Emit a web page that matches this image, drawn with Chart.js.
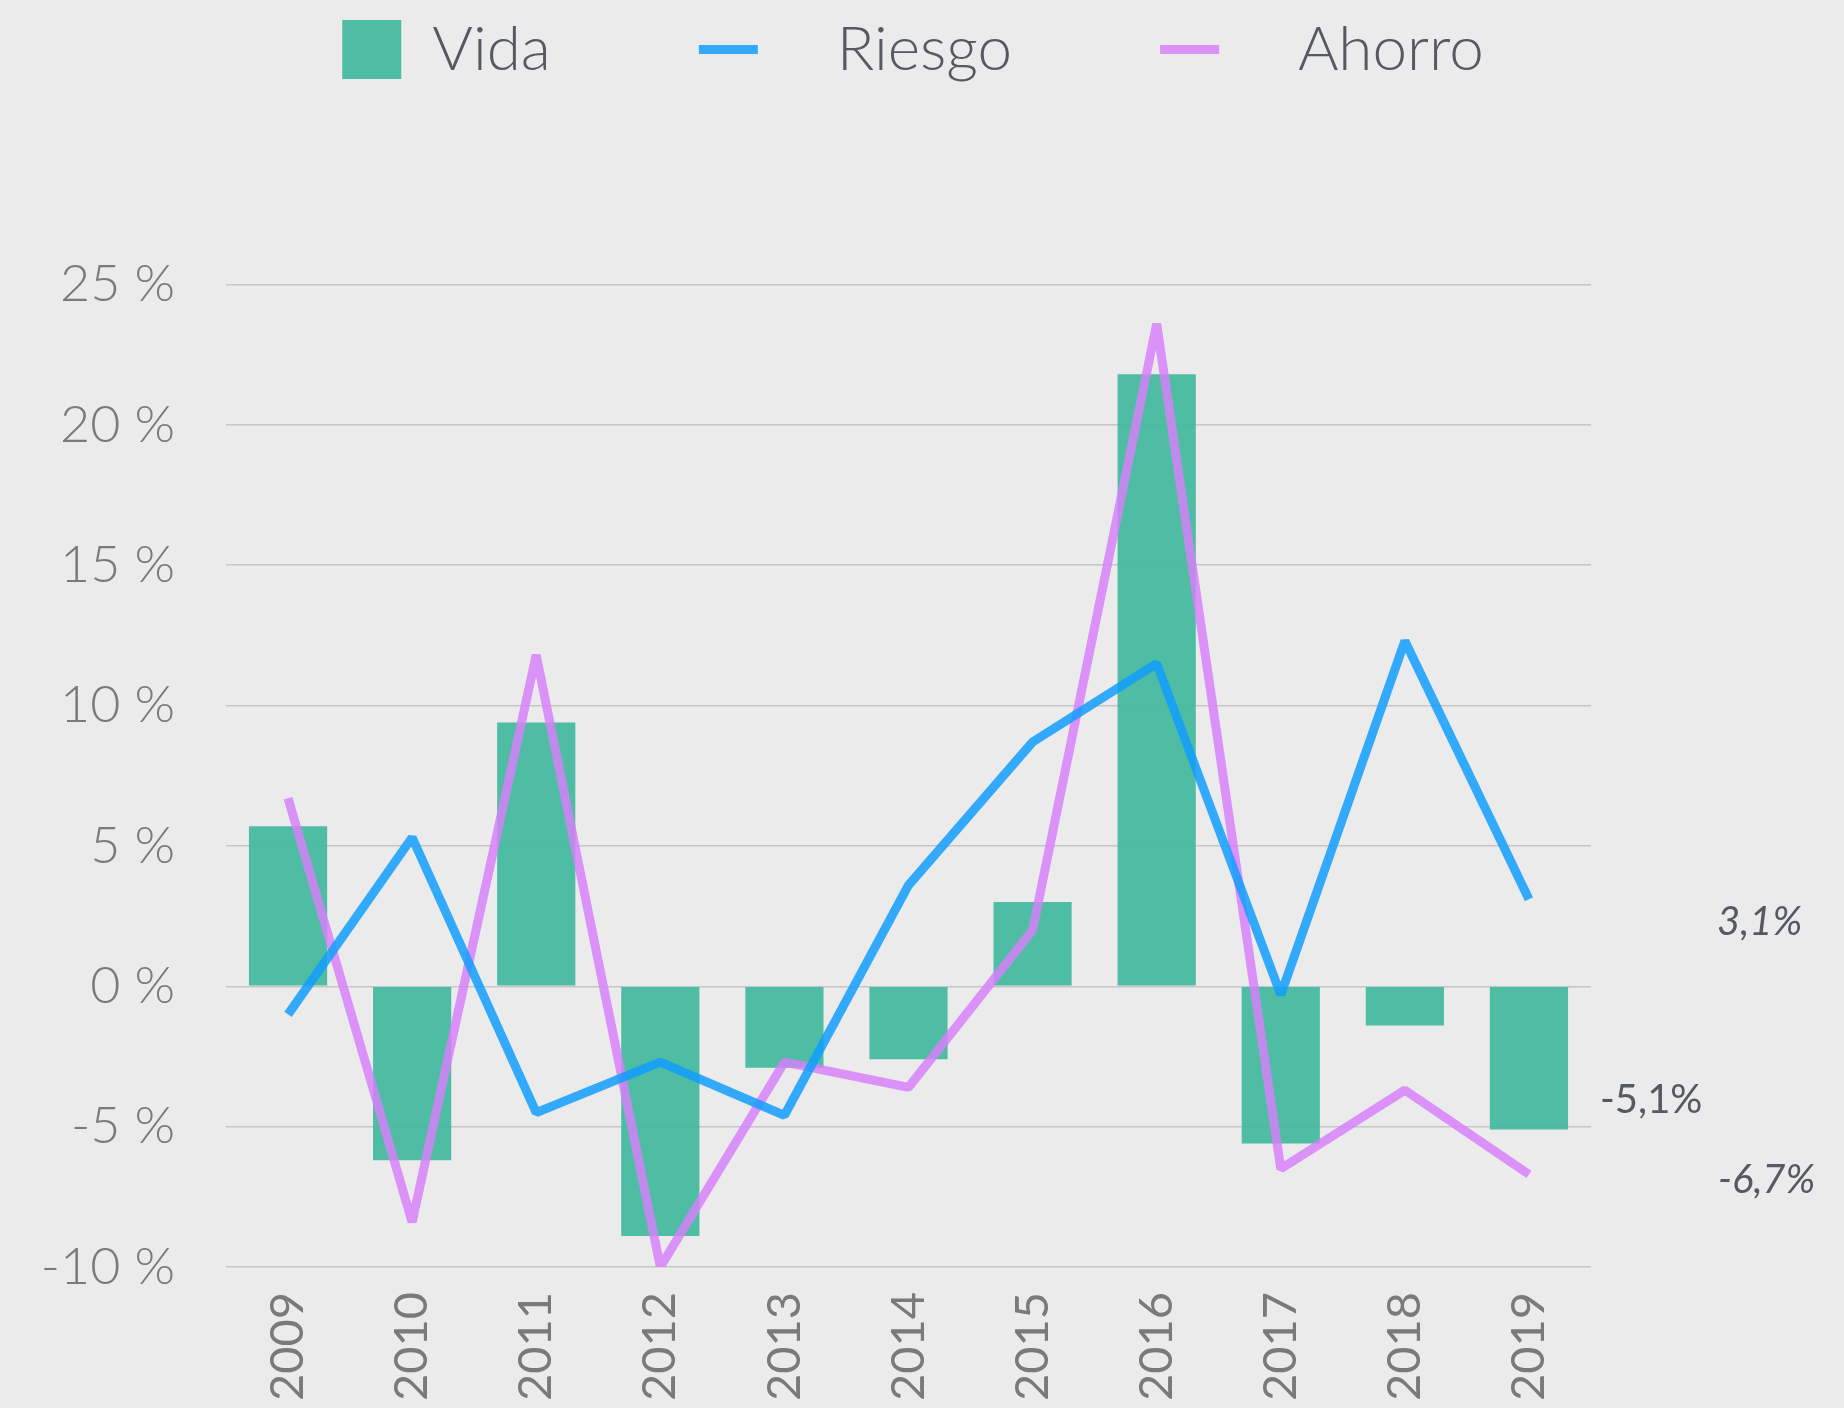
<!DOCTYPE html>
<html lang="es">
<head>
    <meta charset="UTF-8">
    <title>Vida, Riesgo y Ahorro</title>
    <script src="https://cdn.jsdelivr.net/npm/chart.js"></script>
    <style>
        body {
            margin: 0;
            background: #ebebeb;
        }
        .chart-box {
            width: 1844px;
            height: 1408px;
        }
    </style>
</head>
<body>
    <div class="chart-box">
        <canvas id="growthChart"></canvas>
    </div>

    <script>
        // values, in %
        const years = ["2009", "2010", "2011", "2012", "2013", "2014", "2015", "2016", "2017", "2018", "2019"];
        const vida = [5.7, -6.2, 9.4, -8.9, -2.9, -2.6, 3.0, 21.8, -5.6, -1.4, -5.1];
        const riesgo = [-1.0, 5.3, -4.5, -2.7, -4.6, 3.6, 8.7, 11.5, -0.3, 12.3, 3.1];
        const ahorro = [6.7, -8.4, 11.8, -10.0, -2.7, -3.6, 2.0, 23.6, -6.5, -3.7, -6.7];

        const yMin = -10;
        const yMax = 25;
        const yStep = 5;

        const textColor = "#555a62";
        const tickColor = "#7a7a7a";

        function pct(v) {
            return v.toFixed(1).replace(".", ",") + "%";
        }

        // last-year labels on the right side
        const endLabels = {
            id: "endLabels",
            afterDatasetsDraw(chart) {
                const ctx = chart.ctx;
                const y = chart.scales.y;
                const right = chart.chartArea.right;
                const notes = [
                    { data: riesgo, dx: 126, dy: 23, italic: true },
                    { data: vida, dx: 9, dy: -29, italic: false },
                    { data: ahorro, dx: 127, dy: 6, italic: true }
                ];
                ctx.save();
                ctx.fillStyle = textColor;
                ctx.textAlign = "left";
                ctx.textBaseline = "middle";
                notes.forEach(n => {
                    const v = n.data[n.data.length - 1];
                    ctx.font = (n.italic ? "italic " : "") + "40px Lato";
                    ctx.fillText(pct(v), right + n.dx, y.getPixelForValue(v) + n.dy);
                });
                ctx.restore();
            }
        };

        const ctx = document.getElementById("growthChart").getContext("2d");
        new Chart(ctx, {
            type: "bar",
            data: {
                labels: years,
                datasets: [
                    {
                        label: "Vida",
                        data: vida,
                        backgroundColor: "rgba(64,184,156,0.92)",
                        borderWidth: 0,
                        barPercentage: 0.63,
                        categoryPercentage: 1,
                        order: 3
                    },
                    {
                        type: "line",
                        label: "Riesgo",
                        data: riesgo,
                        borderColor: "rgba(18,158,254,0.85)",
                        backgroundColor: "rgba(18,158,254,0.85)",
                        borderWidth: 9,
                        borderJoinStyle: "bevel",
                        pointRadius: 0,
                        pointHoverRadius: 0,
                        tension: 0,
                        fill: false,
                        order: 1
                    },
                    {
                        type: "line",
                        label: "Ahorro",
                        data: ahorro,
                        borderColor: "rgba(215,128,250,0.84)",
                        backgroundColor: "rgba(215,128,250,0.84)",
                        borderWidth: 9,
                        borderJoinStyle: "bevel",
                        pointRadius: 0,
                        pointHoverRadius: 0,
                        tension: 0,
                        fill: false,
                        order: 2
                    }
                ]
            },
            options: {
                responsive: true,
                maintainAspectRatio: false,
                animation: false,
                layout: {
                    padding: { top: -129.5, right: 18, left: 0, bottom: 0 }
                },
                plugins: {
                    tooltip: { enabled: false },
                    legend: {
                        position: "top",
                        labels: {
                            usePointStyle: true,
                            pointStyleWidth: 59,
                            boxHeight: 59,
                            padding: 148,
                            color: textColor,
                            font: { family: "Lato", size: 62, weight: "300" },
                            sort: (a, b) => a.datasetIndex - b.datasetIndex,
                            generateLabels(chart) {
                                const items = Chart.defaults.plugins.legend.labels.generateLabels(chart);
                                items.forEach(it => {
                                    const ds = chart.data.datasets[it.datasetIndex];
                                    if (ds.type === "line") {
                                        it.pointStyle = "line";
                                        it.lineWidth = 9;
                                        it.strokeStyle = ds.borderColor;
                                        // line markers sit further from their text
                                        it.text = "\u2002 " + it.text;
                                    } else {
                                        it.pointStyle = "rect";
                                        it.lineWidth = 0;
                                    }
                                });
                                return items;
                            }
                        }
                    }
                },
                scales: {
                    x: {
                        position: "bottom",
                        grid: { display: false, drawTicks: false },
                        border: { display: false },
                        ticks: {
                            autoSkip: false,
                            minRotation: 90,
                            maxRotation: 90,
                            padding: 25,
                            color: tickColor,
                            font: { family: "Lato", size: 47 }
                        },
                        afterFit(scale) { scale.height = 141; }
                    },
                    xTop: {
                        type: "category",
                        position: "top",
                        grid: { display: false, drawTicks: false },
                        border: { display: false },
                        ticks: { display: false },
                        afterFit(scale) { scale.height = 194; }
                    },
                    y: {
                        position: "left",
                        min: yMin,
                        max: yMax,
                        grid: { color: "#c6c6c6", lineWidth: 1.5, drawTicks: false },
                        border: { display: false },
                        ticks: {
                            stepSize: yStep,
                            padding: 51,
                            color: tickColor,
                            font: { family: "Lato", size: 52, weight: "300" },
                            callback: v => v + " %"
                        },
                        afterFit(scale) { scale.width = 226; }
                    },
                    yRight: {
                        position: "right",
                        grid: { display: false, drawTicks: false },
                        border: { display: false },
                        ticks: { display: false },
                        afterFit(scale) { scale.width = 235; }
                    }
                }
            },
            plugins: [endLabels]
        });
    </script>
</body>
</html>
